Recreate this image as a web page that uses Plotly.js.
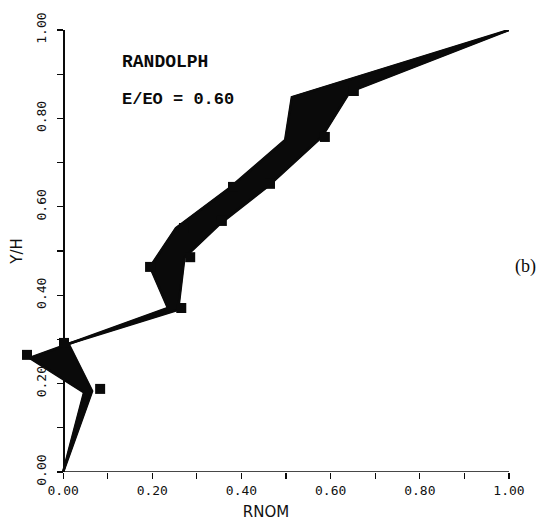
<!DOCTYPE html>
<html>
<head>
<meta charset="utf-8">
<script src="https://cdn.plot.ly/plotly-3.0.1.min.js"></script>
<style>
  html, body { margin: 0; padding: 0; background: #fff; }
  #chart { width: 538px; height: 531px; }
</style>
</head>
<body>
<div id="chart"></div>
<script>
// Envelope of the RNOM profiles: left-most and right-most profile nodes
const yhLeft    = [0, 0.180, 0.258, 0.371, 0.464, 0.552, 0.643, 0.751, 0.848, 1.0];
const rnomLeft  = [0, 0.047, -0.075, 0.235, 0.195, 0.253, 0.374, 0.498, 0.513, 1.0];
const yhRight   = [0, 0.183, 0.290, 0.367, 0.485, 0.560, 0.647, 0.758, 0.860, 1.0];
const rnomRight = [0, 0.065, 0.012, 0.258, 0.272, 0.350, 0.460, 0.580, 0.643, 1.0];

// Node symbols plotted at the profile breakpoints
const markRnom = [0.083, -0.081, 0.002, 0.265, 0.195, 0.285, 0.271, 0.356, 0.381, 0.464, 0.587, 0.652];
const markYH   = [0.188, 0.265, 0.292, 0.371, 0.464, 0.486, 0.552, 0.568, 0.645, 0.652, 0.758, 0.862];

// Axis ticks
const tickVals = [0, 0.2, 0.4, 0.6, 0.8, 1.0];
const tickText = ['0.00', '0.20', '0.40', '0.60', '0.80', '1.00'];

const caseName = 'RANDOLPH';
const caseRatio = 'E/EO = 0.60';
const panelTag = '(b)';

const ink = '#0a0a0a';

// closed outline: left profile upward, right profile back down
const bandX = rnomLeft.concat(rnomRight.slice().reverse());
const bandY = yhLeft.concat(yhRight.slice().reverse());

const traces = [
  {
    x: bandX, y: bandY, type: 'scatter', mode: 'lines',
    fill: 'toself', fillcolor: ink,
    line: { color: ink, width: 1.5 }, hoverinfo: 'skip'
  },
  {
    x: rnomLeft, y: yhLeft, type: 'scatter', mode: 'lines',
    line: { color: ink, width: 2.5 }, hoverinfo: 'skip'
  },
  {
    x: rnomRight, y: yhRight, type: 'scatter', mode: 'lines',
    line: { color: ink, width: 2.5 }, hoverinfo: 'skip'
  },
  {
    x: markRnom, y: markYH, type: 'scatter', mode: 'markers',
    marker: { symbol: 'square', size: 10, color: ink, line: { width: 0 } },
    cliponaxis: false, hoverinfo: 'skip'
  }
];

const tickFont = { family: 'DejaVu Sans Mono', size: 13, color: '#111' };

const layout = {
  width: 538, height: 531,
  margin: { l: 23, r: 29, t: 30, b: 59 },
  paper_bgcolor: '#fff', plot_bgcolor: '#fff',
  showlegend: false,
  xaxis: {
    range: [-0.09, 1.0],
    tickmode: 'array', tickvals: tickVals, ticktext: tickText,
    ticks: 'outside', ticklen: 6, tickwidth: 1.2, tickcolor: ink,
    minor: { dtick: 0.1, tick0: 0, ticks: 'outside', ticklen: 6, tickwidth: 1.2, tickcolor: ink, showgrid: false },
    showline: false, showgrid: false, zeroline: false,
    tickfont: tickFont,
    title: { text: 'RNOM', font: { family: 'DejaVu Sans', size: 15, color: '#111' }, standoff: 9 },
    automargin: false
  },
  yaxis: {
    range: [0, 1.0],
    anchor: 'free', position: 0.09 / 1.09,
    tickmode: 'array', tickvals: tickVals, ticktext: tickText,
    tickangle: -90,
    ticks: 'outside', ticklen: 6, tickwidth: 1.2, tickcolor: ink,
    minor: { dtick: 0.1, tick0: 0, ticks: 'outside', ticklen: 6, tickwidth: 1.2, tickcolor: ink, showgrid: false },
    showline: true, linecolor: ink, linewidth: 1.5,
    showgrid: false, zeroline: false,
    tickfont: tickFont,
    ticklabelstandoff: 6,
    title: { text: 'Y/H', font: { family: 'DejaVu Sans', size: 15, color: '#111' }, standoff: 6 },
    automargin: false
  },
  shapes: [
    { type: 'line', xref: 'x', yref: 'y', x0: 0, x1: 1.0, y0: 0, y1: 0,
      line: { color: ink, width: 1.5 } }
  ],
  annotations: [
    { text: '<b>' + caseName + '</b>', xref: 'x', yref: 'y', x: 0.128, y: 0.928,
      xanchor: 'left', yanchor: 'middle', showarrow: false,
      font: { family: 'Liberation Mono', size: 18, color: ink } },
    { text: '<b>' + caseRatio + '</b>', xref: 'x', yref: 'y', x: 0.128, y: 0.842,
      xanchor: 'left', yanchor: 'middle', showarrow: false,
      font: { family: 'Liberation Mono', size: 17, color: ink } },
    { text: panelTag, xref: 'paper', yref: 'paper', x: 1.008, y: 0.466,
      xanchor: 'left', yanchor: 'middle', showarrow: false,
      font: { family: 'Liberation Serif', size: 18, color: ink } }
  ]
};

Plotly.newPlot('chart', traces, layout, { staticPlot: true, displayModeBar: false });
</script>
</body>
</html>
